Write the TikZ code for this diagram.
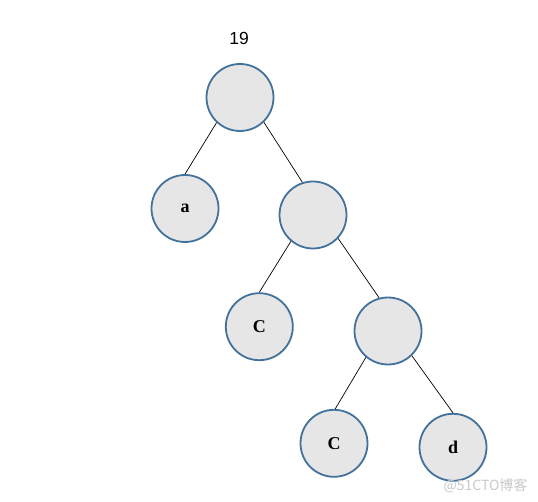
\documentclass[tikz,border=0pt]{standalone}
\usepackage{fontspec}
\setmainfont{Liberation Serif}
\newfontfamily\lsans{Liberation Sans}
\newfontfamily\cjk{Noto Sans CJK SC}
\definecolor{nodefill}{HTML}{E6E6E6}
\definecolor{nodeborder}{HTML}{41719C}
\definecolor{wm}{HTML}{C8C8C8}
\begin{document}
\begin{tikzpicture}[x=1pt,y=-1pt,
  treenode/.style={circle,draw=nodeborder,fill=nodefill,line width=1.8pt,minimum size=67pt,inner sep=0pt,font=\fontsize{18}{20}\selectfont\bfseries},
  edge/.style={draw=black,line width=0.7pt}]
\useasboundingbox (0,0) rectangle (538,502);
\node[font=\lsans\fontsize{17.5}{20}\selectfont] (lbl) at (239,38.5) {19};
\node[treenode] (r) at (240,97.5) {};
\node[treenode] (a) at (185,208.5) {a};
\node[treenode] (n1) at (313,215) {};
\node[treenode] (c1) at (259.3,326.7) {C};
\node[treenode] (n2) at (388,331) {};
\node[treenode] (c2) at (334,443.3) {C};
\node[treenode] (d) at (453,447.3) {d};
\draw[edge] (r.-133) -- (a.north);
\draw[edge] (r.-46) -- (n1.108);
\draw[edge] (n1.-130) -- (c1.north);
\draw[edge] (n1.-43) -- (n2.105);
\draw[edge] (n2.-130) -- (c2.88);
\draw[edge] (n2.-46) -- (d.north);
\node[font=\cjk\fontsize{14}{16}\selectfont,text=wm,anchor=east] (wmk) at (531,486) {@51CTO博客};
\end{tikzpicture}
\end{document}
